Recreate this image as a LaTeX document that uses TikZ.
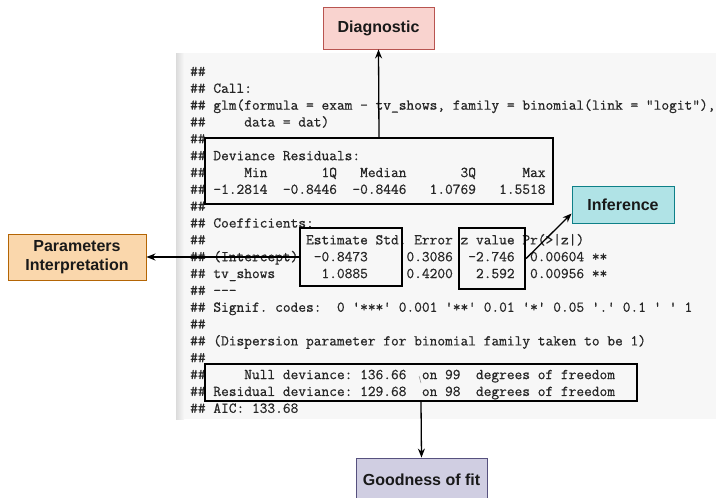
\documentclass[tikz,border=0pt]{standalone}
\usepackage{fontspec}
\newfontfamily\calloutfont{Liberation Sans}
\font\codefnt="[lmmono12-regular.otf]:embolden=0.7" at 15pt
\usetikzlibrary{arrows.meta}
\definecolor{diagfill}{HTML}{F9D3CF}
\definecolor{diagdraw}{HTML}{B85450}
\definecolor{inffill}{HTML}{B0E3E6}
\definecolor{infdraw}{HTML}{0E8088}
\definecolor{parfill}{HTML}{FAD7AC}
\definecolor{pardraw}{HTML}{B46504}
\definecolor{goodfill}{HTML}{D0CEE2}
\definecolor{gooddraw}{HTML}{56517E}
\definecolor{codegray}{HTML}{262626}
\begin{document}
\begin{tikzpicture}[x=1pt,y=-1pt,
  codeline/.style={anchor=base west,inner sep=0pt,text=codegray,
    font=\codefnt\frenchspacing},
  hlbox/.style={draw=black,line width=2.2pt,rectangle,inner sep=0pt},
  callout/.style={rectangle,line width=0.9pt,inner sep=0pt,align=center,
    font=\calloutfont\bfseries\fontsize{16}{19}\selectfont,text=black!90},
  conn/.style={line width=1.3pt,-{Stealth[length=9pt,width=7pt]}}]
\useasboundingbox (0,0) rectangle (716,498);
% code panel
\fill[black!3] (176,53) rectangle (716,419);
\shade[left color=black!14,right color=black!3] (176,53) rectangle (184,419);
% code lines
\node[codeline] (l0) at (190,76) {\#\#};
\node[codeline] (l1) at (190,92.84) {\#\#~Call:};
\node[codeline] (l2) at (190,109.68) {\#\#~glm(formula~=~exam~-~tv\_shows,~family~=~binomial(link~=~"logit"),};
\node[codeline] (l3) at (190,126.52) {\#\#~~~~~data~=~dat)};
\node[codeline] (l4) at (190,143.36) {\#\#};
\node[codeline] (l5) at (190,160.2) {\#\#~Deviance~Residuals:};
\node[codeline] (l6) at (190,177.04) {\#\#~~~~~Min~~~~~~~1Q~~~Median~~~~~~~3Q~~~~~~Max};
\node[codeline] (l7) at (190,193.88) {\#\#~-1.2814~~-0.8446~~-0.8446~~~1.0769~~~1.5518};
\node[codeline] (l8) at (190,210.72) {\#\#};
\node[codeline] (l9) at (190,227.56) {\#\#~Coefficients:};
\node[codeline] (l10) at (190,244.4) {\#\#~~~~~~~~~~~~~Estimate~Std.~Error~z~value~Pr(>|z|)};
\node[codeline] (l11) at (190,261.24) {\#\#~(Intercept)~~-0.8473~~~~~0.3086~~-2.746~~0.00604~**};
\node[codeline] (l12) at (190,278.08) {\#\#~tv\_shows~~~~~~1.0885~~~~~0.4200~~~2.592~~0.00956~**};
\node[codeline] (l13) at (190,294.92) {\#\#~---};
\node[codeline] (l14) at (190,311.76) {\#\#~Signif.~codes:~~0~'***'~0.001~'**'~0.01~'*'~0.05~'.'~0.1~'~'~1};
\node[codeline] (l15) at (190,328.6) {\#\#};
\node[codeline] (l16) at (190,345.44) {\#\#~(Dispersion~parameter~for~binomial~family~taken~to~be~1)};
\node[codeline] (l17) at (190,362.28) {\#\#};
\node[codeline] (l18) at (190,379.12) {\#\#~~~~~Null~deviance:~136.66~~on~99~~degrees~of~freedom};
\node[codeline] (l19) at (190,395.96) {\#\#~Residual~deviance:~129.68~~on~98~~degrees~of~freedom};
\node[codeline] (l20) at (190,412.8) {\#\#~AIC:~133.68};
% small mark
\draw[black!45,line width=0.5pt] (419,376) -- (421,383);
% highlight boxes
\node[hlbox,minimum width=348pt,minimum height=66pt] (devbox) at (379,171) {};
\node[hlbox,minimum width=102pt,minimum height=58pt] (estbox) at (351,257) {};
\node[hlbox,minimum width=66pt,minimum height=61pt] (zbox) at (492,258.5) {};
\node[hlbox,minimum width=432pt,minimum height=37pt] (resbox) at (421,382.5) {};
% callouts
\node[callout,fill=diagfill,draw=diagdraw,minimum width=111pt,minimum height=42pt] (diag) at (378.5,28) {Diagnostic};
\node[callout,fill=inffill,draw=infdraw,minimum width=102pt,minimum height=37pt] (infer) at (623,204.5) {Inference};
\node[callout,fill=parfill,draw=pardraw,minimum width=138pt,minimum height=46pt] (param) at (77,257) {Parameters\\Interpretation};
\node[callout,fill=goodfill,draw=gooddraw,minimum width=131pt,minimum height=44pt] (good) at (421.5,480) {Goodness of fit};
% connectors
\draw[conn] (devbox.north) -- (diag.south);
\draw[conn] (estbox.west) -- (param.east);
\draw[conn] (zbox.east) -- (infer.190);
\draw[conn] (resbox.south) -- (good.north);
\end{tikzpicture}
\end{document}
